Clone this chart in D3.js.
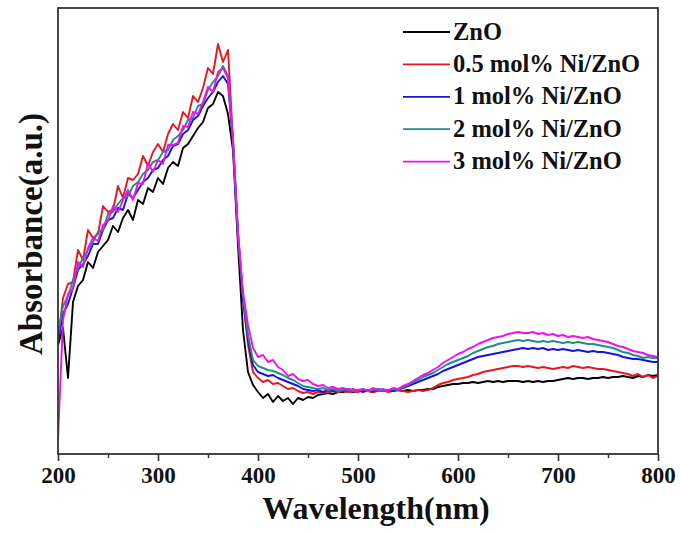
<!DOCTYPE html>
<html>
<head>
<meta charset="utf-8">
<script src="https://cdn.jsdelivr.net/npm/d3@7"></script>
<style>
  body { margin: 0; background: #fff; }
  text { font-family: 'Times New Roman', 'Liberation Serif', serif; font-weight: bold; }
</style>
</head>
<body>
<svg id="container"></svg>
<script>
// wavelength grid, 200..800 nm every 5 nm
const wavelengths = d3.range(200, 801, 5);

const seriesNames = ['ZnO', '0.5 mol% Ni/ZnO', '1 mol% Ni/ZnO', '2 mol% Ni/ZnO', '3 mol% Ni/ZnO'];
const seriesColors = ['#000000', '#e8161e', '#1414dc', '#1f8f84', '#f010f0'];

// absorbance (a.u.), one row = 50 nm
const znO = [
  1.09,1.26,0.76,1.52,1.68,1.74,1.92,1.86,2.02,2.08,
  2.14,2.28,2.22,2.36,2.44,2.34,2.54,2.50,2.66,2.62,
  2.76,2.70,2.86,2.92,2.88,3.06,3.10,3.18,3.26,3.32,
  3.46,3.50,3.62,3.58,3.40,3.04,2.09,1.24,0.82,0.69,
  0.62,0.56,0.60,0.52,0.58,0.53,0.56,0.50,0.56,0.54,
  0.57,0.56,0.59,0.60,0.61,0.60,0.62,0.62,0.63,0.62,
  0.63,0.64,0.63,0.62,0.64,0.63,0.64,0.63,0.64,0.63,
  0.64,0.63,0.64,0.64,0.65,0.65,0.67,0.68,0.69,0.70,
  0.70,0.71,0.71,0.72,0.71,0.72,0.73,0.72,0.73,0.72,
  0.73,0.73,0.73,0.72,0.73,0.72,0.73,0.72,0.73,0.73,
  0.74,0.75,0.76,0.75,0.76,0.76,0.75,0.76,0.76,0.77,
  0.76,0.77,0.77,0.78,0.77,0.76,0.78,0.77,0.79,0.78,
  0.79
];
const ni05 = [
  1.14,1.56,1.70,1.72,2.04,1.94,2.24,2.16,2.20,2.48,
  2.42,2.44,2.68,2.56,2.76,2.74,2.80,2.98,2.88,3.02,
  3.10,3.02,3.20,3.30,3.24,3.42,3.36,3.58,3.52,3.66,
  3.86,3.80,4.10,3.92,4.04,3.14,2.20,1.56,1.09,0.82,
  0.76,0.72,0.74,0.70,0.71,0.68,0.65,0.66,0.63,0.61,
  0.62,0.60,0.62,0.61,0.62,0.63,0.62,0.63,0.62,0.63,
  0.62,0.64,0.63,0.62,0.63,0.64,0.62,0.63,0.64,0.63,
  0.62,0.63,0.64,0.63,0.64,0.66,0.69,0.71,0.72,0.74,
  0.75,0.76,0.77,0.79,0.80,0.82,0.83,0.84,0.85,0.86,
  0.87,0.88,0.88,0.87,0.88,0.87,0.86,0.87,0.86,0.85,
  0.86,0.87,0.86,0.88,0.87,0.86,0.87,0.86,0.85,0.85,
  0.84,0.83,0.82,0.81,0.80,0.78,0.80,0.77,0.79,0.76,
  0.78
];
const ni1 = [
  1.12,1.40,1.50,1.66,1.84,1.90,1.98,2.10,2.10,2.24,
  2.34,2.36,2.46,2.44,2.60,2.56,2.64,2.72,2.76,2.84,
  2.86,2.94,2.98,3.08,3.10,3.20,3.24,3.34,3.38,3.48,
  3.56,3.62,3.72,3.78,3.70,3.12,2.18,1.54,1.14,0.89,
  0.82,0.80,0.78,0.79,0.76,0.74,0.72,0.70,0.68,0.65,
  0.64,0.63,0.64,0.62,0.64,0.63,0.64,0.63,0.65,0.63,
  0.64,0.62,0.64,0.63,0.65,0.63,0.64,0.63,0.65,0.66,
  0.68,0.70,0.72,0.74,0.76,0.78,0.80,0.83,0.85,0.87,
  0.89,0.91,0.93,0.95,0.97,0.98,0.99,1.00,1.01,1.02,
  1.03,1.04,1.05,1.06,1.05,1.06,1.05,1.06,1.04,1.05,
  1.04,1.05,1.04,1.03,1.04,1.03,1.02,1.03,1.02,1.02,
  1.01,1.00,0.99,0.97,0.96,0.95,0.95,0.94,0.93,0.92,
  0.92
];
const ni2 = [
  1.19,1.48,1.58,1.74,1.86,1.96,2.04,2.12,2.22,2.24,
  2.40,2.42,2.50,2.56,2.58,2.68,2.72,2.80,2.84,2.92,
  2.94,3.02,3.04,3.14,3.18,3.24,3.34,3.36,3.48,3.50,
  3.64,3.72,3.78,3.88,3.78,3.14,2.20,1.58,1.19,0.94,
  0.88,0.86,0.84,0.83,0.81,0.79,0.76,0.74,0.71,0.68,
  0.67,0.66,0.65,0.66,0.64,0.65,0.63,0.64,0.65,0.63,
  0.64,0.65,0.63,0.64,0.65,0.63,0.64,0.65,0.64,0.67,
  0.69,0.72,0.74,0.77,0.79,0.81,0.84,0.87,0.90,0.92,
  0.94,0.96,0.98,1.01,1.03,1.05,1.07,1.08,1.10,1.11,
  1.12,1.13,1.14,1.13,1.14,1.13,1.12,1.13,1.12,1.13,
  1.12,1.11,1.12,1.11,1.12,1.11,1.10,1.10,1.09,1.08,
  1.07,1.06,1.04,1.02,1.01,0.99,0.98,0.96,0.97,0.96,
  0.96
];
const ni3 = [
  0.14,1.34,1.60,1.65,1.92,1.87,2.06,2.16,2.13,2.29,
  2.33,2.48,2.42,2.54,2.64,2.54,2.71,2.70,2.91,2.82,
  2.94,2.90,3.09,3.09,3.11,3.28,3.27,3.42,3.40,3.52,
  3.67,3.62,3.82,3.86,3.76,3.14,2.22,1.62,1.29,1.06,
  0.97,0.99,0.92,0.94,0.87,0.84,0.78,0.80,0.75,0.73,
  0.74,0.70,0.68,0.69,0.66,0.67,0.65,0.66,0.64,0.65,
  0.63,0.65,0.63,0.66,0.64,0.65,0.63,0.66,0.65,0.68,
  0.70,0.73,0.76,0.79,0.81,0.84,0.87,0.91,0.94,0.97,
  1.00,1.02,1.05,1.07,1.10,1.12,1.14,1.16,1.17,1.18,
  1.20,1.21,1.22,1.21,1.21,1.22,1.20,1.21,1.19,1.20,
  1.18,1.19,1.17,1.18,1.17,1.16,1.17,1.15,1.14,1.13,
  1.12,1.10,1.08,1.07,1.05,1.03,1.02,1.01,0.99,0.98,
  0.97
];

const xTicks = [200, 300, 400, 500, 600, 700, 800];
const xMinorTicks = [250, 350, 450, 550, 650, 750];

function drawChart() {
  const width = 681, height = 533;
  const plot = { left: 58, right: 658, top: 8, bottom: 454 };

  const svg = d3.select('#container')
    .attr('width', width)
    .attr('height', height);

  const xScale = d3.scaleLinear().domain([200, 800]).range([plot.left, plot.right]);
  const yScale = d3.scaleLinear().domain([0, 4.46]).range([plot.bottom, plot.top]);

  svg.append('defs').append('clipPath').attr('id', 'clip')
    .append('rect')
    .attr('x', plot.left).attr('y', plot.top)
    .attr('width', plot.right - plot.left)
    .attr('height', plot.bottom - plot.top);

  const allSeries = [znO, ni05, ni1, ni2, ni3];
  const line = d3.line()
    .x((d, i) => xScale(wavelengths[i]))
    .y((d) => yScale(d));

  const body = svg.append('g').attr('clip-path', 'url(#clip)');
  body.selectAll('path.spec')
    .data(allSeries)
    .enter()
    .append('path')
    .attr('class', 'spec')
    .attr('d', line)
    .attr('fill', 'none')
    .attr('stroke', (d, i) => seriesColors[i])
    .attr('stroke-width', 1.9)
    .attr('stroke-linejoin', 'round');

  // frame
  svg.append('rect')
    .attr('x', plot.left).attr('y', plot.top)
    .attr('width', plot.right - plot.left)
    .attr('height', plot.bottom - plot.top)
    .attr('fill', 'none')
    .attr('stroke', '#333')
    .attr('stroke-width', 1.8);

  // bottom axis
  const xAxis = d3.axisBottom(xScale)
    .tickValues(xTicks)
    .tickSize(7)
    .tickPadding(6)
    .tickFormat(d3.format('d'));
  const gX = svg.append('g')
    .attr('class', 'axis x-axis')
    .attr('transform', 'translate(0,' + plot.bottom + ')')
    .call(xAxis);
  gX.select('.domain').remove();
  gX.selectAll('.tick line').attr('stroke', '#333').attr('stroke-width', 1.6);
  gX.selectAll('.tick text')
    .attr('fill', '#111')
    .style('font-size', '23px');

  const gXMinor = svg.append('g')
    .attr('transform', 'translate(0,' + plot.bottom + ')')
    .call(d3.axisBottom(xScale).tickValues(xMinorTicks).tickSize(4).tickFormat(''));
  gXMinor.select('.domain').remove();
  gXMinor.selectAll('.tick line').attr('stroke', '#333').attr('stroke-width', 1.4);

  // axis titles
  svg.append('text')
    .attr('x', 376)
    .attr('y', 519)
    .attr('text-anchor', 'middle')
    .attr('fill', '#111')
    .style('font-size', '32px')
    .text('Wavelength(nm)');

  svg.append('text')
    .attr('transform', 'translate(42,234) rotate(-90)')
    .attr('text-anchor', 'middle')
    .attr('fill', '#111')
    .style('font-size', '33px')
    .text('Absorbance(a.u.)');

  // legend
  const legend = svg.append('g').attr('class', 'legend');
  const rows = legend.selectAll('g')
    .data(seriesNames)
    .enter()
    .append('g')
    .attr('transform', (d, i) => 'translate(403,' + (32 + i * 32.4) + ')');
  rows.append('line')
    .attr('x1', 0).attr('x2', 47)
    .attr('y1', 0).attr('y2', 0)
    .attr('stroke', (d, i) => seriesColors[i])
    .attr('stroke-width', 1.8);
  rows.append('text')
    .attr('x', 50)
    .attr('y', 7.5)
    .attr('fill', '#111')
    .style('font-size', '24.5px')
    .text((d) => d);
}

drawChart();
</script>
</body>
</html>
